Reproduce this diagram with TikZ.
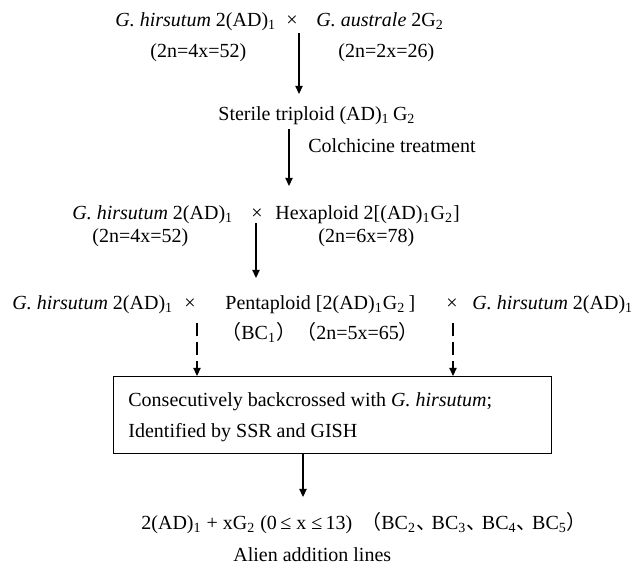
\documentclass[tikz,border=0pt]{standalone}
\usepackage{fontspec}
\setmainfont{Liberation Serif}
\newfontfamily\cjk{Noto Sans CJK SC}
\usetikzlibrary{arrows.meta}
\newcommand\sbs[1]{\textsubscript{#1}}
\newcommand\dun{{\cjk 、}\hspace{-2.2pt}}
\begin{document}
\begin{tikzpicture}[x=0.5pt,y=-0.5pt,
  txt/.style={inner sep=0pt, anchor=base west, font=\fontsize{10}{12}\selectfont},
  ctr/.style={inner sep=0pt, anchor=base, font=\fontsize{10}{12}\selectfont},
  arr/.style={line width=0.65pt, -{Triangle[length=4pt,width=3.6pt]}},
  darr/.style={arr, dash pattern=on 6.5pt off 3pt},
  boxst/.style={draw, line width=0.65pt, inner sep=0pt, anchor=north west,
    minimum width=219pt, minimum height=38.5pt}]
\useasboundingbox (0,0) rectangle (633,565);
% row 1
\node[txt] (p1) at (115,27) {\textit{G. hirsutum} 2(AD)\sbs{1}};
\node[ctr] (x1) at (292,27) {×};
\node[txt] (p2) at (316,27) {\textit{G. australe} 2G\sbs{2}};
\node[txt] (c1) at (150,58) {(2n=4x=52)};
\node[txt] (c2) at (338,58) {(2n=2x=26)};
% row 2
\node[txt] (tri) at (218,121) {Sterile triploid (AD)\sbs{1}\,G\sbs{2}};
\node[txt] (col) at (308,153) {Colchicine treatment};
% row 3
\node[txt] (p3) at (72,220) {\textit{G. hirsutum} 2(AD)\sbs{1}};
\node[ctr] (x3) at (257,220) {×};
\node[txt] (hex) at (275,220) {Hexaploid 2[(AD)\sbs{1}G\sbs{2}]};
\node[txt] (c3) at (92,243) {(2n=4x=52)};
\node[txt] (c4) at (318,243) {(2n=6x=78)};
% row 4
\node[txt] (p4) at (12,310) {\textit{G. hirsutum} 2(AD)\sbs{1}};
\node[ctr] (x4) at (190,310) {×};
\node[txt] (pen) at (225,310) {Pentaploid [2(AD)\sbs{1}G\sbs{2}\,]};
\node[ctr] (x5) at (452,310) {×};
\node[txt] (p5) at (472,310) {\textit{G. hirsutum} 2(AD)\sbs{1}};
\node[txt] (bc1) at (221,340) {{\cjk （}BC\sbs{1}{\cjk ）}};
\node[txt] (c5) at (296,340) {{\cjk （}2n=5x=65{\cjk ）}};
% box
\node[boxst] (box) at (113,376) {};
\node[txt] (b1) at (128,407) {Consecutively backcrossed with \textit{G. hirsutum};};
\node[txt] (b2) at (128,438) {Identified by SSR and GISH};
% result
\node[txt] (res) at (141,530) {2(AD)\sbs{1} + xG\sbs{2} (0\,≤ x ≤\,13)};
\node[txt] (bcs) at (361,530) {{\cjk （}BC\sbs{2}\dun BC\sbs{3}\dun BC\sbs{4}\dun BC\sbs{5}{\cjk ）}};
\node[txt] (ali) at (233,562) {Alien addition lines};
% connectors
\coordinate (a1s) at (299,33);
\coordinate (a1e) at (299,94);
\coordinate (a2s) at (289,129);
\coordinate (a2e) at (289,186);
\coordinate (a3s) at (256,223);
\coordinate (a3e) at (256,278);
\coordinate (d1s) at (197,323);
\coordinate (d2s) at (453,323);
\coordinate (a4s) at (303,453);
\coordinate (a4e) at (303,497);
\draw[arr] (a1s) -- (a1e);
\draw[arr] (a2s) -- (a2e);
\draw[arr] (a3s) -- (a3e);
\draw[darr] (d1s) -- (d1s |- box.north);
\draw[darr] (d2s) -- (d2s |- box.north);
\draw[arr] (box.south -| a4s) -- (a4e);
\end{tikzpicture}
\end{document}
